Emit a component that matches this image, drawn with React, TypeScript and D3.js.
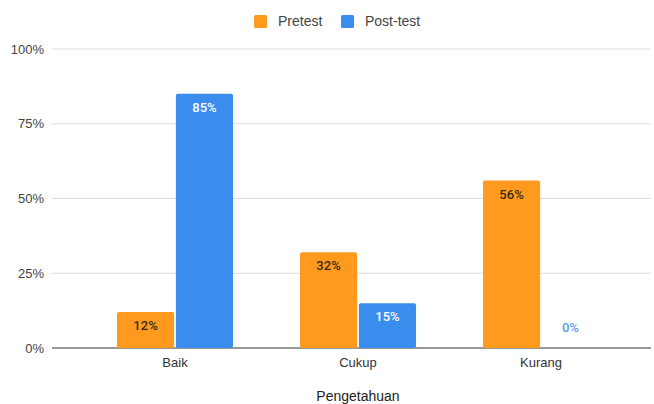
import * as d3 from "d3";

const categories = ["Baik", "Cukup", "Kurang"];
const seriesNames = ["Pretest", "Post-test"];
const pretest = [12, 32, 56];
const posttest = [85, 15, 0];
const yTicks = [0, 25, 50, 75, 100];
const xTitle = "Pengetahuan";

const colors = ["#FF9A1F", "#3A8DEC"];
const W = 654;
const H = 404;
const font = "'Liberation Sans', Arial, Helvetica, sans-serif";

export default function App() {
  const margin = { left: 52, right: 3, top: 49, bottom: 56 };
  const y = d3.scaleLinear().domain([0, 100]).range([H - margin.bottom, margin.top]);
  const x = d3
    .scaleBand<string>()
    .domain(categories)
    .range([83.5, 632.5])
    .paddingInner(0.366)
    .paddingOuter(0.183);
  const inner = d3.scaleBand<string>().domain(seriesNames).range([0, x.bandwidth()]).paddingInner(0.03);
  const values = [pretest, posttest];

  const legendX = [254, 341];

  return (
    <div style={{ position: "fixed", left: 0, top: 0 }}>
      <svg width={W} height={H} style={{ display: "block", background: "#fff" }} fontFamily={font}>
        {/* gridlines + y labels */}
        {yTicks.map((t) => (
          <g key={t}>
            <line
              x1={margin.left}
              x2={W - margin.right}
              y1={y(t)}
              y2={y(t)}
              stroke={t === 0 ? "#333" : "#dcdcdc"}
              strokeWidth={1}
            />
            <text x={44} y={y(t)} dy="0.35em" textAnchor="end" fontSize={13} fill="#444">
              {t}%
            </text>
          </g>
        ))}

        {/* bars */}
        {categories.map((c, i) => (
          <g key={c} transform={`translate(${x(c)},0)`}>
            {seriesNames.map((s, j) => {
              const v = values[j][i];
              const bx = inner(s)!;
              const bw = inner.bandwidth();
              const top = y(v);
              const h = y(0) - top;
              const inside = h > 22;
              return (
                <g key={s}>
                  {h > 0 && <rect x={bx} y={top} width={bw} height={h} rx={2} fill={colors[j]} />}
                  <text
                    x={bx + bw / 2}
                    y={inside ? top + 18 : top - 16}
                    textAnchor="middle"
                    fontSize={13}
                    fontFamily="Roboto, 'Liberation Sans', sans-serif"
                    fontWeight={500}
                    fill={inside ? (j === 0 ? "#3a2a10" : "#ffffff") : "#5a9cf0"}
                  >
                    {v}%
                  </text>
                </g>
              );
            })}
            <text x={x.bandwidth() / 2} y={y(0) + 19} textAnchor="middle" fontSize={13} fill="#333">
              {c}
            </text>
          </g>
        ))}

        {/* axis title */}
        <text x={358} y={401} textAnchor="middle" fontSize={14} fill="#222">
          {xTitle}
        </text>

        {/* legend */}
        {seriesNames.map((s, j) => (
          <g key={s}>
            <rect x={legendX[j]} y={15} width={13} height={13} rx={1.5} fill={colors[j]} />
            <text x={legendX[j] + 24} y={21.5} dy="0.35em" fontSize={14} fill="#444">
              {s}
            </text>
          </g>
        ))}
      </svg>
    </div>
  );
}
